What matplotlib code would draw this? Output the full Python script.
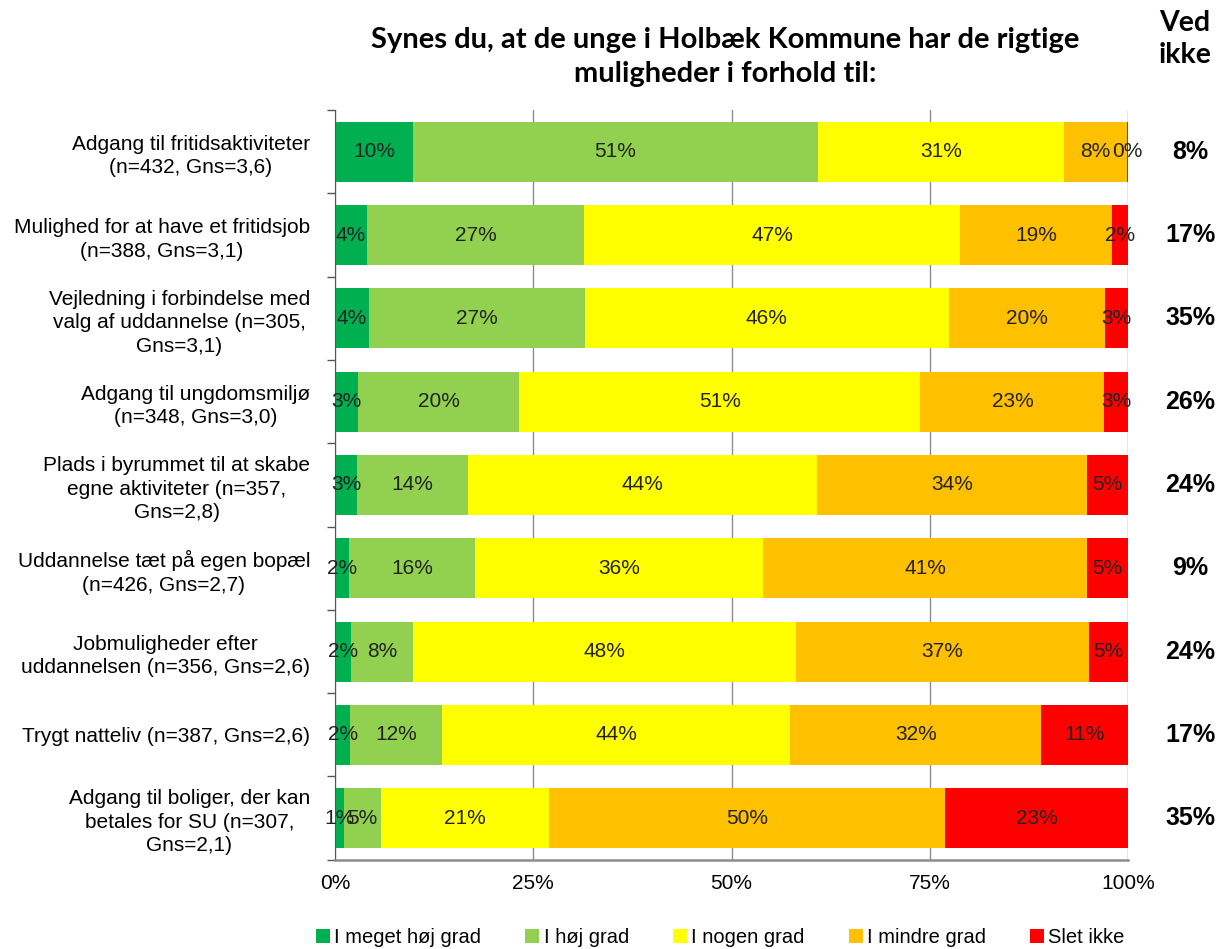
import matplotlib
matplotlib.use("Agg")
import matplotlib.pyplot as plt
import numpy as np

plt.rcParams['font.family'] = ['Liberation Sans', 'DejaVu Sans']

categories = [
    "Adgang til fritidsaktiviteter\n(n=432, Gns=3,6)",
    "Mulighed for at have et fritidsjob\n(n=388, Gns=3,1)",
    "Vejledning i forbindelse med\nvalg af uddannelse (n=305,\nGns=3,1)",
    "Adgang til ungdomsmiljø\n(n=348, Gns=3,0)",
    "Plads i byrummet til at skabe\negne aktiviteter (n=357,\nGns=2,8)",
    "Uddannelse tæt på egen bopæl\n(n=426, Gns=2,7)",
    "Jobmuligheder efter\nuddannelsen (n=356, Gns=2,6)",
    "Trygt natteliv (n=387, Gns=2,6)",
    "Adgang til boliger, der kan\nbetales for SU (n=307,\nGns=2,1)",
]
series_names = ["I meget høj grad", "I høj grad", "I nogen grad", "I mindre grad", "Slet ikke"]
meget_hoej = [9.8, 4.0, 4.3, 2.9, 2.8, 1.7, 2.0, 1.9, 1.1]
hoej = [51.1, 27.4, 27.2, 20.3, 14.0, 16.0, 7.8, 11.6, 4.7]
nogen = [31.0, 47.4, 45.9, 50.6, 44.0, 36.3, 48.3, 43.9, 21.2]
mindre = [7.9, 19.2, 19.7, 23.2, 34.0, 40.8, 36.9, 31.6, 49.9]
slet_ikke = [0.2, 2.0, 2.9, 3.0, 5.2, 5.2, 5.0, 11.0, 23.1]
ved_ikke = ["8%", "17%", "35%", "26%", "24%", "9%", "24%", "17%", "35%"]
colors = ["#00B050", "#92D050", "#FFFF00", "#FFC000", "#FF0000"]

series = [meget_hoej, hoej, nogen, mindre, slet_ikke]

fig = plt.figure(figsize=(12.21, 9.49), dpi=100)
ax = fig.add_axes([0.2744, 0.094, 0.6496, 0.790])

y = np.arange(len(categories))
left = np.zeros(len(categories))
for name, vals, col in zip(series_names, series, colors):
    vals = np.array(vals)
    ax.barh(y, vals, left=left, height=0.72, color=col, label=name, zorder=2)
    for yi, (l, v) in enumerate(zip(left, vals)):
        ax.text(l + v / 2, yi, f"{round(v):d}%", ha='center', va='center',
                fontsize=15, color='#222222', zorder=3)
    left = left + vals

ax.set_xlim(0, 100)
ax.set_ylim(len(categories) - 0.5, -0.5)
ax.set_xticks([0, 25, 50, 75, 100])
ax.set_xticklabels(["0%", "25%", "50%", "75%", "100%"], fontsize=15)
ax.xaxis.grid(True, color='#8c8c8c', linewidth=1, zorder=0)
ax.set_axisbelow(True)
ax.tick_params(axis='x', length=0, pad=10)

ax.set_yticks(y)
ax.set_yticklabels(categories, fontsize=15, linespacing=1.3)
ax.set_yticks(np.arange(-0.5, len(categories), 1), minor=True)
ax.tick_params(axis='y', which='major', length=0, pad=18)
ax.tick_params(axis='y', which='minor', length=6, color='#555555', width=1)
for t in ax.get_yticklabels():
    t.set_multialignment('center')

for s in ['top', 'right']:
    ax.spines[s].set_visible(False)
ax.spines['left'].set_color('#555555')
ax.spines['bottom'].set_color('#8c8c8c')
ax.spines['bottom'].set_linewidth(1.8)

for yi, v in enumerate(ved_ikke):
    ax.text(1.078, yi, v, transform=ax.get_yaxis_transform(), ha='center', va='center',
            fontsize=18, fontweight='bold')

fig.text(0.594, 0.94, "Synes du, at de unge i Holbæk Kommune har de rigtige\nmuligheder i forhold til:",
         ha='center', va='center', fontsize=21, fontweight='bold', family=['Lato', 'DejaVu Sans'],
         linespacing=1.4)
fig.text(0.9705, 0.959, "Ved\nikke", ha='center', va='center', fontsize=20.5, fontweight='bold',
         family=['Lato', 'DejaVu Sans'], linespacing=1.3)

leg = fig.legend(loc='center', bbox_to_anchor=(0.59, 0.012), ncol=5, frameon=False,
                 fontsize=14.5, handlelength=0.7, handleheight=0.7, handletextpad=0.2,
                 columnspacing=2.2)

fig.savefig("out.png", dpi=100)
